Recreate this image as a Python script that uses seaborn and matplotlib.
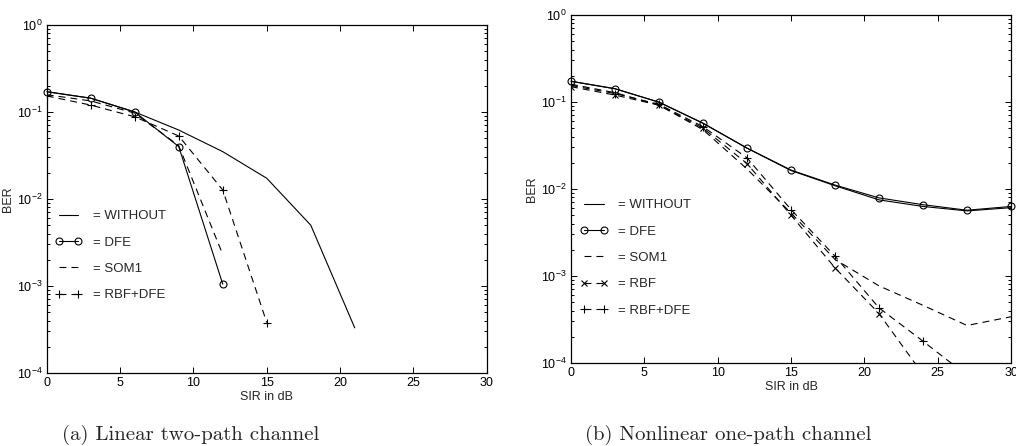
import matplotlib
matplotlib.use("Agg")
import matplotlib.pyplot as plt
import seaborn as sns

### data, BER vs SIR (dB)

# (a) linear two-path channel
a_without_x = [0, 3, 6, 9, 12, 15, 18, 21]
a_without_y = [0.171, 0.144, 0.100, 0.062, 0.035, 0.0173, 0.0050, 0.00033]
a_dfe_x = [0, 3, 6, 9, 12]
a_dfe_y = [0.171, 0.144, 0.100, 0.040, 0.00105]
a_som1_x = [0, 3, 6, 9, 12]
a_som1_y = [0.158, 0.134, 0.097, 0.041, 0.0023]
a_rbfdfe_x = [0, 3, 6, 9, 12, 15]
a_rbfdfe_y = [0.153, 0.120, 0.088, 0.053, 0.0127, 0.00038]

# (b) nonlinear one-path channel
b_x = [0, 3, 6, 9, 12, 15, 18, 21, 24, 27, 30]
b_without_y = [0.173, 0.142, 0.0995, 0.057, 0.0295, 0.0163, 0.0109, 0.0075, 0.0063, 0.0056, 0.0061]
b_dfe_y = [0.173, 0.142, 0.0995, 0.057, 0.0295, 0.0165, 0.0111, 0.0079, 0.0066, 0.0057, 0.0063]
b_som1_y = [0.160, 0.128, 0.092, 0.048, 0.017, 0.0053, 0.00155, 0.00077, 0.00046, 0.00027, 0.00034]
b_rbf_x = [0, 3, 6, 9, 12, 15, 18, 21, 24]
b_rbf_y = [0.150, 0.120, 0.092, 0.050, 0.0196, 0.0050, 0.00124, 0.00037, 0.000074]
b_rbfdfe_x = [0, 3, 6, 9, 12, 15, 18, 21, 24, 27]
b_rbfdfe_y = [0.155, 0.125, 0.094, 0.052, 0.0228, 0.0058, 0.00169, 0.00043, 0.000178, 0.000072]

###styling
sns.set_style("ticks")
plt.rcParams["font.family"] = ["Liberation Sans", "DejaVu Sans"]
plt.rcParams["lines.scale_dashes"] = False
plt.rcParams["axes.linewidth"] = 0.9
plt.rcParams["xtick.direction"] = "in"
plt.rcParams["ytick.direction"] = "in"

LW = 0.8
DASH = (0, (5, 3.6))

fig = plt.figure(figsize=(10.16, 4.46), dpi=100)
ax_a = fig.add_axes([0.046, 0.1637, 0.4331, 0.7803])
ax_b = fig.add_axes([0.562, 0.1861, 0.4331, 0.7803])


def draw(ax, x, y, label, marker=None, dashed=False, clip=True, ms=5):
    ls = DASH if dashed else "-"
    sns.lineplot(x=x, y=y, ax=ax, color="k", lw=LW, linestyle=ls,
                 marker=marker, markersize=ms, markerfacecolor="none",
                 markeredgecolor="k", markeredgewidth=0.8,
                 label=label, clip_on=clip, estimator=None, sort=False)


draw(ax_a, a_without_x, a_without_y, "= WITHOUT")
draw(ax_a, a_dfe_x, a_dfe_y, "= DFE", marker="o", clip=False)
draw(ax_a, a_som1_x, a_som1_y, "= SOM1", dashed=True)
draw(ax_a, a_rbfdfe_x, a_rbfdfe_y, "= RBF+DFE", marker="+", dashed=True, ms=6)

draw(ax_b, b_x, b_without_y, "= WITHOUT")
draw(ax_b, b_x, b_dfe_y, "= DFE", marker="o", clip=False)
draw(ax_b, b_x, b_som1_y, "= SOM1", dashed=True)
draw(ax_b, b_rbf_x, b_rbf_y, "= RBF", marker="x", dashed=True)
draw(ax_b, b_rbfdfe_x, b_rbfdfe_y, "= RBF+DFE", marker="+", dashed=True, ms=6)

for ax, leg_xy in [(ax_a, (0.018, 0.468)), (ax_b, (0.021, 0.471))]:
    ax.set_yscale("log")
    ax.set_ylim(1e-4, 1)
    ax.set_xlim(0, 30)
    ax.set_xticks([0, 5, 10, 15, 20, 25, 30])
    ax.tick_params(which="both", top=True, right=True, labelsize=9, pad=3,
                   width=0.7, colors="k")
    ax.tick_params(which="major", length=4)
    ax.tick_params(which="minor", length=2)
    for s in ax.spines.values():
        s.set_color("k")
    ax.set_xlabel("SIR in dB", fontsize=9, labelpad=1)
    ax.set_ylabel("BER", fontsize=9, labelpad=2)
    ax.legend(loc="upper left", bbox_to_anchor=leg_xy, frameon=False,
              fontsize=9.5, handlelength=2.1, handletextpad=0.8,
              labelspacing=1.07, borderpad=0, borderaxespad=0, numpoints=2)

# subfigure captions
fig.text(62 / 1016, 1 - 440 / 446, "(a) Linear two-path channel",
         family="cmr10", fontsize=15, va="baseline", ha="left")
fig.text(585 / 1016, 1 - 440 / 446, "(b) Nonlinear one-path channel",
         family="cmr10", fontsize=15, va="baseline", ha="left")

fig.savefig("out.png", dpi=100)
